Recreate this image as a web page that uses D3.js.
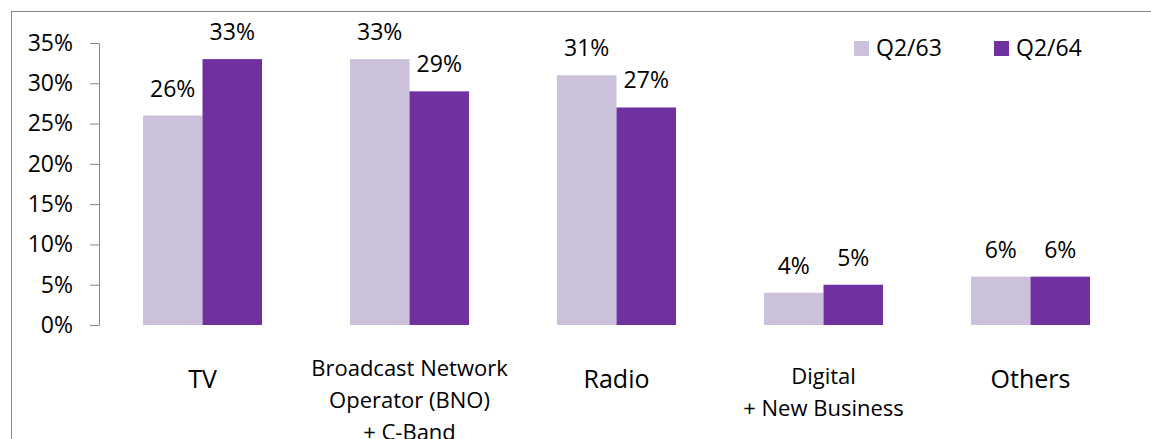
<!DOCTYPE html>
<html>
<head>
<meta charset="utf-8">
<script src="https://cdn.jsdelivr.net/npm/d3@7"></script>
<style>
    body { margin: 0; background: #fff; }
    #chart text { font-family: "Open Sans", sans-serif; fill: #000; }
</style>
</head>
<body>
<div id="chart"></div>
<script>

// chart data
var categories = ["TV", "BNO", "Radio", "Digital", "Others"];
var categoryLines = [
    ["TV"],
    ["Broadcast Network", "Operator (BNO)", "+ C-Band"],
    ["Radio"],
    ["Digital", "+ New Business"],
    ["Others"]
];
var seriesNames = ["Q2/63", "Q2/64"];
var q263 = [26, 33, 31, 4, 6];
var q264 = [33, 29, 27, 5, 6];
var yTicks = [0, 5, 10, 15, 20, 25, 30, 35];

var colors = ["#ccc1da", "#7030a0"];

var width = 1151, height = 439;
var margin = { top: 43, right: 17, bottom: 114, left: 99 };
var innerW = width - margin.left - margin.right;
var innerH = height - margin.top - margin.bottom;

var svg = d3.select("#chart").append("svg")
    .attr("width", width)
    .attr("height", height);

// chart area border (runs off the right and bottom edges)
svg.append("rect")
    .attr("x", 11.5)
    .attr("y", 11.5)
    .attr("width", width + 20)
    .attr("height", height + 20)
    .attr("fill", "none")
    .attr("stroke", "#898989")
    .attr("stroke-width", 1);

var g = svg.append("g")
    .attr("transform", "translate(" + margin.left + "," + margin.top + ")");

var x0 = d3.scaleBand()
    .domain(categories)
    .range([0, innerW])
    .paddingInner(0.425)
    .paddingOuter(0.2125);

var x1 = d3.scaleBand()
    .domain(seriesNames)
    .range([0, x0.bandwidth()]);

var y = d3.scaleLinear()
    .domain([0, 35])
    .range([innerH, 0]);

// y axis
var yAxis = g.append("g")
    .attr("class", "y-axis")
    .call(d3.axisLeft(y)
        .tickValues(yTicks)
        .tickSizeInner(9)
        .tickSizeOuter(0)
        .tickPadding(17)
        .tickFormat(function(d) { return d + "%"; }));

yAxis.selectAll("line, path").attr("stroke", "#868686");
yAxis.selectAll("text")
    .style("font-size", "23px")
    .style("font-family", "'Open Sans', sans-serif")
    .attr("fill", "#000");

// bars
var rows = categories.map(function(c, i) {
    return { cat: c, values: [q263[i], q264[i]] };
});

var groups = g.selectAll(".cat")
    .data(rows)
    .enter().append("g")
    .attr("class", "cat")
    .attr("transform", function(d) { return "translate(" + x0(d.cat) + ",0)"; });

groups.selectAll("rect")
    .data(function(d) {
        return d.values.map(function(v, j) { return { s: seriesNames[j], v: v, j: j }; });
    })
    .enter().append("rect")
    .attr("x", function(d) { return x1(d.s); })
    .attr("y", function(d) { return y(d.v); })
    .attr("width", x1.bandwidth())
    .attr("height", function(d) { return innerH - y(d.v); })
    .attr("fill", function(d) { return colors[d.j]; });

// data labels
groups.selectAll(".lbl")
    .data(function(d) {
        return d.values.map(function(v, j) { return { s: seriesNames[j], v: v }; });
    })
    .enter().append("text")
    .attr("class", "lbl")
    .attr("x", function(d) { return x1(d.s) + x1.bandwidth() / 2; })
    .attr("y", function(d) { return y(d.v) - 19; })
    .attr("text-anchor", "middle")
    .style("font-size", "23px")
    .text(function(d) { return d.v + "%"; });

// category labels
var catLabels = g.selectAll(".catlbl")
    .data(categories)
    .enter().append("text")
    .attr("class", "catlbl")
    .attr("text-anchor", "middle")
    .attr("x", function(d) { return x0(d) + x0.bandwidth() / 2; })
    .attr("y", function(d, i) {
        // multi-line labels start higher
        var n = categoryLines[i].length;
        if (n === 3) return innerH + 51;
        if (n === 2) return innerH + 59;
        return innerH + 63;
    })
    .style("font-size", function(d, i) {
        return categoryLines[i].length > 1 ? "22px" : "25px";
    });

catLabels.each(function(d, i) {
    var t = d3.select(this);
    categoryLines[i].forEach(function(line, k) {
        t.append("tspan")
            .attr("x", x0(d) + x0.bandwidth() / 2)
            .attr("dy", k === 0 ? 0 : 32)
            .text(line);
    });
});

// legend
var legend = svg.append("g")
    .attr("transform", "translate(854,41)");

var legendX = [0, 140];
seriesNames.forEach(function(name, i) {
    legend.append("rect")
        .attr("x", legendX[i])
        .attr("y", 0)
        .attr("width", 15)
        .attr("height", 15)
        .attr("fill", colors[i]);
    legend.append("text")
        .attr("x", legendX[i] + 22)
        .attr("y", 15)
        .style("font-size", "23px")
        .text(name);
});

</script>
</body>
</html>
